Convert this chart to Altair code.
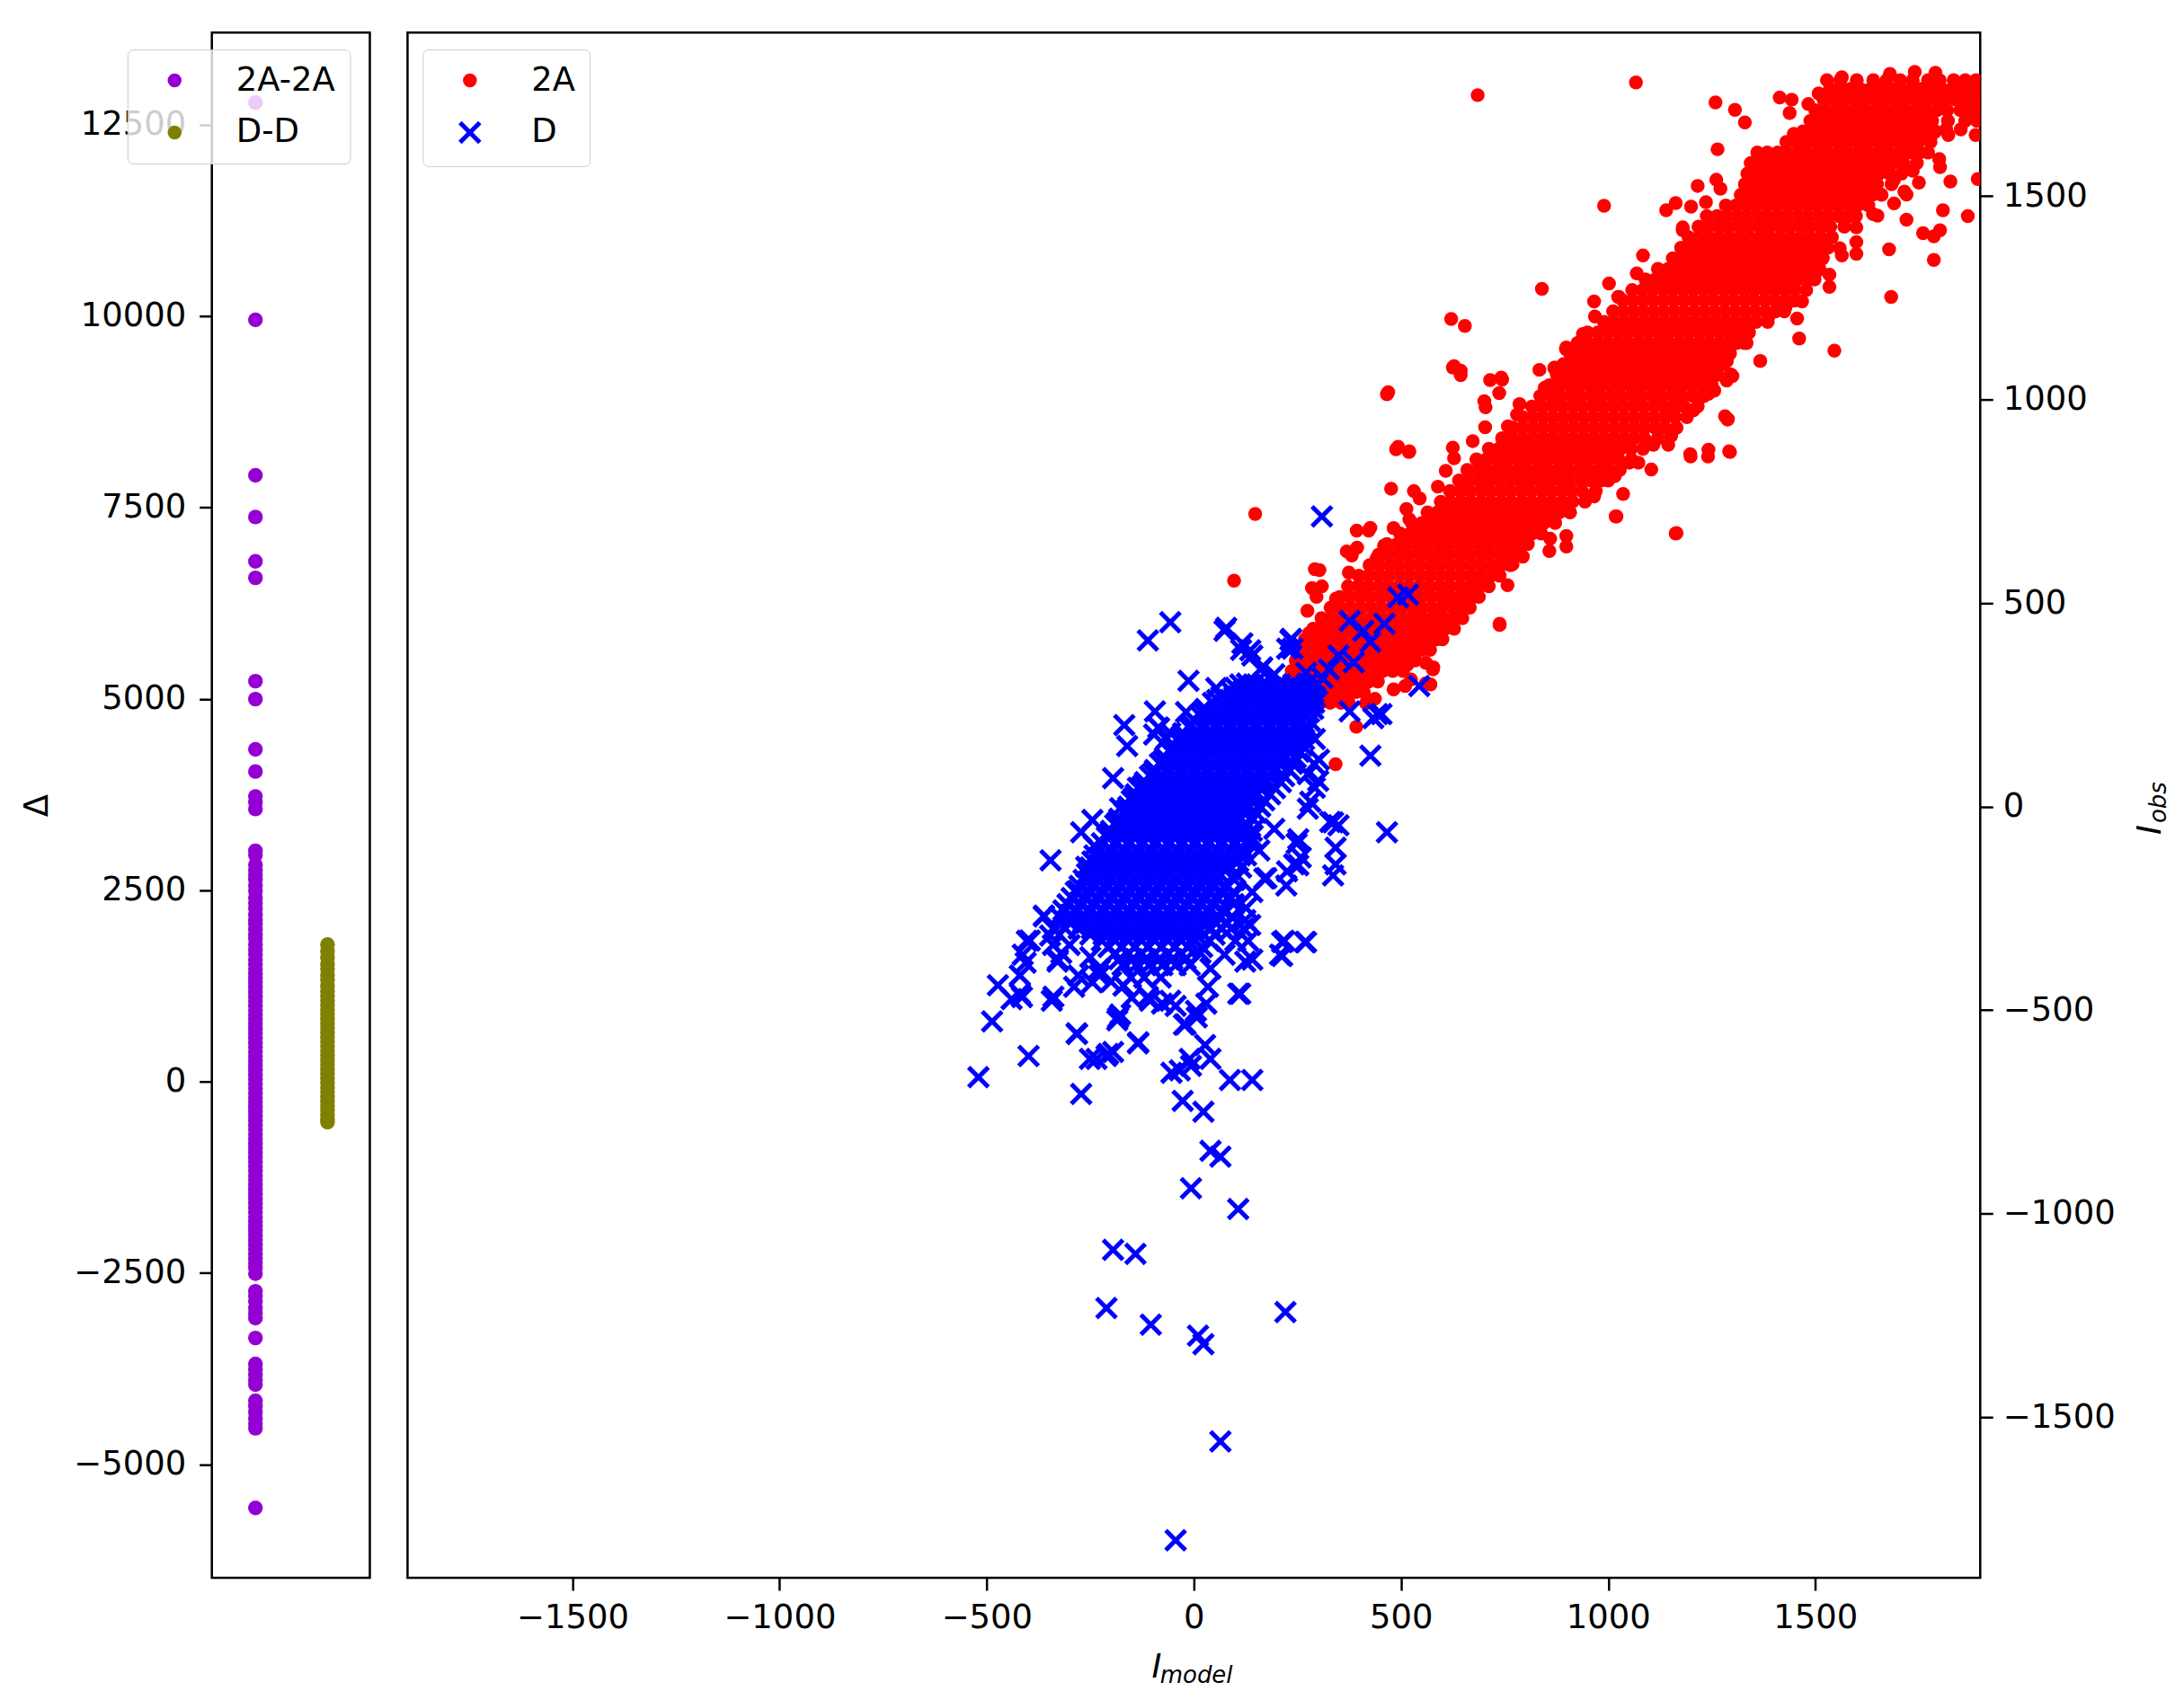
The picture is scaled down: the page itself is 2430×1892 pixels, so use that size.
import altair as alt
import pandas as pd

# ---------- left panel values (Delta) ----------
delta_2a = [12790, 9950, 7920, 7375, 6795, 6580, 5230, 4995, 4340, 4050, 3725, 3650, 3560, 3015, 2960, 2830, 2760,
            2700, 2640, 2560, 2490, 2400, 2330, 2260, 2180, 2110, 2060, 1990, 1920, 1870, 1790, 1720, 1660, 1590,
            1530, 1470, 1410, 1350, 1290, 1230, 1170, 1110, 1050, 990, 930, 870, 810, 750, 690, 630, 570, 510, 450,
            390, 330, 270, 210, 150, 90, 30, -30, -90, -150, -210, -270, -330, -390, -450, -510, -570, -630, -690,
            -750, -810, -870, -930, -990, -1050, -1110, -1170, -1230, -1290, -1350, -1410, -1470, -1530, -1590,
            -1650, -1710, -1770, -1830, -1890, -1950, -2010, -2070, -2130, -2190, -2250, -2310, -2370, -2430, -2510,
            -2740, -2800, -2870, -2960, -3030, -3090, -3350, -3690, -3760, -3830, -3900, -3960, -4170, -4240, -4320,
            -4400, -4470, -4530, -5570]
delta_d = [1790, 1700, 1620, 1530, 1470, 1390, 1330, 1250, 1180, 1120, 1060, 1000, 940, 880, 820, 760, 700, 640, 580,
           520, 460, 400, 340, 280, 220, 160, 100, 40, -20, -80, -140, -200, -260, -320, -380, -440, -490, -530]

# ---------- right panel values: outliers ----------
red_out_x = [1067, 1259, 1306, 1330, 1264, 1414, 1438, 1443, 990, 1216, 840, 1002, 966, 1026, 1140, 1163, 1200, 1180,
             834, 871, 1678, 1786, 1683, 1546, 1461, 1456, 1367, 1334, 1288, 1206, 1296, 1534, 1534, 1826, 1892, 1808,
             1868, 1760, 1801, 1786, 1799, 1801, 1816, 1735, 1750, 1720, 1690, 1720, 1639, 1599, 1564, 1508, 685, 148,
             97, 621, 654, 628, 644, 715, 742, 466, 493, 520, 292, 309, 369, 393, 426, 476, 1165, 1020, 738, 1242,
             1292, 1198, 1282, 560, 577, 510, 342, 544]
red_out_y = [1779, 1730, 1712, 1681, 1615, 1742, 1704, 1737, 1476, 1525, 1272, 1285, 1241, 1252, 1465, 1483, 1474, 1423,
             1073, 1079, 1369, 1343, 1252, 1120, 1150, 1199, 1095, 1139, 951, 974, 1062, 1307, 1277, 1536, 1542, 1465,
             1451, 1409, 1416, 1401, 1591, 1571, 1664, 1562, 1533, 1504, 1482, 1442, 1456, 1358, 1354, 1343, 1748, 719,
             555, 1198, 1181, 1082, 1071, 1048, 1054, 1013, 884, 873, 583, 541, 627, 678, 685, 781, 672, 713, 449, 877,
             873, 866, 959, 303, 337, 296, 104, 398]

# dots hugging the band's edges
red_edge_x = [469, 488, 519, 625, 644, 744, 737, 701, 704, 870, 899, 939, 786, 780, 758, 703, 673, 625, 628, 608, 589,
              531, 545, 513, 520, 482, 422, 459, 394, 381, 441, 303, 374, 285, 296, 343, 274, 278, 1329, 1289, 1294,
              1241, 1199, 1163, 1018, 1036, 966, 1016, 1104, 1073, 1051, 1145, 1152, 1109, 1203, 1159, 1300, 1286, 1286,
              1242, 899, 899, 858, 860, 794, 769, 715, 757, 668, 686, 738, 625, 610, 571, 560, 578, 516, 571, 524, 482,
              437, 415, 392, 1528, 1564, 1508, 1483, 1508, 1448, 1362, 1347, 1261, 1271, 1236, 1180, 1084, 1069, 1024,
              968, 943, 898, 847, 1821, 1851, 1887, 1872, 1781, 1740, 1690, 1715, 1650, 1599, 1599, 1559, 1508, 1498,
              1503, 1468, 1428, 1387, 1286, 1256, 1226, 1155, 1680, 1740, 1790]
red_edge_y = [1018, 878, 871, 1079, 1060, 1049, 1016, 996, 981, 1077, 1128, 1161, 989, 963, 934, 932, 898, 882, 856, 825,
              786, 775, 757, 731, 706, 684, 678, 641, 636, 617, 610, 581, 575, 537, 515, 511, 481, 426, 1139, 952, 871,
              860, 860, 671, 713, 768, 762, 812, 828, 845, 845, 889, 911, 889, 974, 978, 1058, 1047, 1095, 1014, 665, 639,
              628, 658, 614, 595, 567, 544, 511, 540, 446, 496, 456, 404, 353, 342, 349, 300, 312, 288, 265, 254, 196,
              1785, 1792, 1752, 1726, 1697, 1653, 1602, 1555, 1540, 1518, 1485, 1416, 1354, 1310, 1252, 1204, 1161, 1124,
              1029, 1650, 1664, 1650, 1701, 1650, 1606, 1540, 1511, 1452, 1423, 1387, 1372, 1365, 1387, 1314, 1241, 1226,
              1204, 1095, 1022, 1007, 971, 1800, 1805, 1803]

blue_out_x = [309, -57, -111, 74, 114, 141, 161, 128, -13, -94, -84, -67, -168, -161, -195, -245, -272, -346, -362, -403,
              -413, -420, -473, -420, -440, -487, -399, -520, -282, -272, -235, -211, -195, -134, -178, -185, -279, -329,
              -339, -228, -245, -111, -77, -44, 7, -20, 30, -10, 27, 40, -27, -54, -34, -7, 87, 141, 23, 40, 64, -7, 107,
              -195, -141, -211, -104, 10, 23, 221, 64, -44, 544, 376, 453, 433, 426, 466, 336, 349, 342, 342, 336, 248,
              258, 225, 242, 275, 292, 302, 275, 124, 131, 124, 218, 208, 268, 107, 74, 40, 141, 175, 158, 493, 517, 376,
              409, 460, 426, 386, 326, 235, 225, 275, 349, 443, 292, 252, 252, 223, 170, 290, 300, 281, 329, 194, 126,
              136, 141, 213, 271, 213, 112, -362, -396, -415, -343, -283, -135, -183, -106, -57, 5, -24, 34, -227, -289,
              -328, -406, -251, -207,
              310, 271, 233, 238, 136, 117, 78, 165, 194, 54, -19, -86, -96, -57, -135, -178, -241, -260, -280, -299,
              -347, -340, -310, 90, 120, 100, -340, -320, -300, -250, -230, -200, -170, -150]
blue_out_y = [713, 453, 408, 432, 385, 371, 337, 302, 309, 234, 193, 166, 200, 149, 70, -33, -63, -132, -268, -330,
              -364, -415, -439, -460, -473, -528, -613, -665, -559, -706, -620, -613, -603, -579, -511, -525, -415, -381,
              -467, -415, -432, -467, -484, -490, -518, -535, -484, -620, -586, -620, -723, -654, -648, -637, -672, -672,
              -750, -846, -860, -938, -989, -1089, -1099, -1232, -1273, -1300, -1321, -1242, -1560, -1803, 296, 234, 227,
              217, 125, -63, -39, -46, -101, -142, -169, -91, -125, -159, -142, 80, 46, 115, -5, -279, -330, -381, -330,
              -364, -333, -460, -364, -398, -210, -176, -108, 514, 521, 456, 432, 449, 405, 354, 337, 412, 388, 302, 371,
              227, 166, -80, -144, -194, -177, 105, 63, 12, -38, -55, -249, -291, -376, -333, -333, -367, -460, -270,
              -329, -468, -477, -557, -582, -519, -477, -477, -502, -536, -443, -401, -443, -376, -384, -620, -608,
              316, 329, 409, 388, 384, 401, 439, 342, 325, 291, 232, 194, 177, 181, 46, -4, -97, -148, -207, -266,
              -317, -300, -300, -300, -300, -330, -340, -360, -340, -370, -400, -430, -440, -470]

# ---------- right panel values: the solid bands, row by row (I_obs, then I_model readings) ----------
red_rows = [
    (255, [232, 258, 281, 306, 329, 355, 374]),
    (281, [218, 244, 268, 293, 317, 342, 366, 391, 410]),
    (307, [226, 251, 275, 300, 325, 349, 374, 398, 422, 444]),
    (333, [236, 260, 285, 309, 334, 358, 383, 407, 432, 456, 480, 505]),
    (359, [246, 270, 295, 320, 344, 369, 393, 418, 442, 467, 491, 516, 534]),
    (385, [256, 281, 305, 330, 354, 379, 403, 428, 452, 477, 501, 526, 550, 570]),
    (411, [268, 293, 317, 342, 366, 391, 415, 440, 464, 489, 513, 538, 562, 586, 600]),
    (437, [288, 312, 337, 361, 386, 410, 435, 459, 484, 508, 533, 557, 581, 606, 628]),
    (463, [308, 333, 357, 382, 406, 431, 455, 480, 504, 529, 553, 578, 602, 627, 648]),
    (489, [330, 354, 379, 403, 428, 452, 477, 501, 526, 550, 575, 599, 624, 648, 666]),
    (515, [352, 376, 401, 425, 450, 474, 499, 523, 548, 572, 597, 621, 646, 670, 688]),
    (541, [372, 397, 421, 446, 470, 495, 519, 544, 568, 593, 617, 642, 666, 691, 712]),
    (567, [398, 422, 447, 471, 496, 520, 545, 569, 594, 618, 643, 667, 692, 716, 738]),
    (593, [424, 448, 473, 497, 522, 546, 571, 595, 620, 644, 669, 693, 718, 742, 764]),
    (619, [446, 470, 495, 519, 544, 568, 593, 617, 642, 666, 691, 715, 740, 764, 786]),
    (645, [466, 491, 515, 540, 564, 589, 613, 638, 662, 687, 711, 736, 760, 785, 806]),
    (671, [498, 522, 547, 571, 596, 620, 645, 669, 694, 718, 743, 767, 792, 816, 838]),
    (697, [526, 551, 575, 600, 624, 649, 673, 698, 722, 747, 771, 796, 820, 845, 872]),
    (723, [564, 588, 613, 637, 662, 686, 711, 735, 760, 784, 809, 833, 858, 882, 908]),
    (749, [596, 620, 645, 669, 694, 718, 743, 767, 792, 816, 841, 865, 890, 914, 944]),
    (775, [618, 643, 667, 692, 716, 741, 765, 790, 814, 839, 863, 888, 912, 937, 970]),
    (801, [640, 664, 689, 713, 738, 762, 787, 811, 836, 860, 885, 909, 934, 958, 983, 1000]),
    (827, [660, 685, 709, 734, 758, 783, 807, 832, 856, 881, 905, 930, 954, 979, 1003, 1028]),
    (853, [682, 706, 731, 755, 780, 804, 829, 853, 878, 902, 927, 951, 976, 1000, 1025, 1056]),
    (879, [712, 736, 761, 785, 810, 834, 859, 883, 908, 932, 957, 981, 1006, 1030, 1055, 1084]),
    (905, [744, 768, 793, 817, 842, 866, 891, 915, 940, 964, 989, 1013, 1038, 1062, 1087, 1120]),
    (931, [770, 794, 819, 843, 868, 892, 917, 941, 966, 990, 1015, 1039, 1064, 1088, 1113, 1137, 1165]),
    (957, [794, 818, 843, 867, 892, 916, 941, 965, 990, 1014, 1039, 1063, 1088, 1112, 1137, 1161, 1190]),
    (983, [816, 840, 865, 889, 914, 938, 963, 987, 1012, 1036, 1061, 1085, 1110, 1134, 1159, 1183, 1216]),
    (1009, [836, 861, 885, 910, 934, 959, 983, 1008, 1032, 1057, 1081, 1106, 1130, 1155, 1179, 1204, 1232]),
    (1035, [858, 882, 907, 931, 956, 980, 1005, 1029, 1054, 1078, 1103, 1127, 1152, 1176, 1201, 1225, 1250]),
    (1061, [876, 900, 925, 949, 974, 998, 1023, 1047, 1072, 1096, 1121, 1145, 1170, 1194, 1219, 1243, 1265]),
    (1087, [892, 917, 941, 966, 990, 1015, 1039, 1064, 1088, 1113, 1137, 1162, 1186, 1211, 1235, 1260, 1280]),
    (1113, [908, 932, 957, 981, 1006, 1030, 1055, 1079, 1104, 1128, 1153, 1177, 1202, 1226, 1251, 1275, 1294]),
    (1139, [926, 950, 975, 999, 1024, 1048, 1073, 1097, 1122, 1146, 1171, 1195, 1220, 1244, 1269, 1293, 1310]),
    (1165, [950, 975, 999, 1024, 1048, 1073, 1097, 1122, 1146, 1171, 1195, 1220, 1244, 1269, 1293, 1318, 1340]),
    (1191, [990, 1014, 1039, 1063, 1088, 1112, 1137, 1161, 1186, 1210, 1235, 1259, 1284, 1308, 1333, 1357, 1385]),
    (1217, [1012, 1036, 1061, 1085, 1110, 1134, 1159, 1183, 1208, 1232, 1257, 1281, 1306, 1330, 1355, 1379, 1404, 1425]),
    (1243, [1036, 1060, 1085, 1109, 1134, 1158, 1183, 1207, 1232, 1256, 1281, 1305, 1330, 1354, 1379, 1403, 1428, 1450]),
    (1269, [1058, 1083, 1107, 1132, 1156, 1181, 1205, 1230, 1254, 1279, 1303, 1328, 1352, 1377, 1401, 1426, 1450, 1478]),
    (1295, [1090, 1114, 1139, 1163, 1188, 1212, 1237, 1261, 1286, 1310, 1335, 1359, 1384, 1408, 1433, 1457, 1482, 1498]),
    (1321, [1120, 1145, 1169, 1194, 1218, 1243, 1267, 1292, 1316, 1341, 1365, 1390, 1414, 1439, 1463, 1488, 1510]),
    (1347, [1156, 1180, 1205, 1229, 1254, 1278, 1303, 1327, 1352, 1376, 1401, 1425, 1450, 1474, 1499, 1518]),
    (1373, [1176, 1200, 1225, 1249, 1274, 1298, 1323, 1347, 1372, 1396, 1421, 1445, 1470, 1494, 1519, 1530]),
    (1399, [1194, 1219, 1243, 1268, 1292, 1317, 1341, 1366, 1390, 1415, 1439, 1464, 1488, 1513, 1540]),
    (1425, [1218, 1242, 1267, 1291, 1316, 1340, 1365, 1389, 1414, 1438, 1463, 1487, 1512, 1536, 1570]),
    (1451, [1238, 1263, 1287, 1312, 1336, 1361, 1385, 1410, 1434, 1459, 1483, 1508, 1532, 1557, 1581, 1598]),
    (1477, [1284, 1308, 1333, 1357, 1382, 1406, 1431, 1455, 1480, 1504, 1529, 1553, 1578, 1602, 1628]),
    (1503, [1320, 1344, 1369, 1393, 1418, 1442, 1467, 1491, 1516, 1540, 1565, 1589, 1614, 1638, 1660]),
    (1529, [1330, 1355, 1379, 1404, 1428, 1453, 1477, 1502, 1526, 1551, 1575, 1600, 1624, 1649, 1684]),
    (1555, [1336, 1360, 1385, 1409, 1434, 1458, 1483, 1507, 1532, 1556, 1581, 1605, 1630, 1654, 1679, 1708]),
    (1581, [1344, 1369, 1393, 1418, 1442, 1467, 1491, 1516, 1540, 1565, 1589, 1614, 1638, 1663, 1687, 1712, 1745]),
    (1607, [1360, 1384, 1409, 1433, 1458, 1482, 1507, 1531, 1556, 1580, 1605, 1629, 1654, 1678, 1703, 1727, 1752, 1772]),
    (1633, [1430, 1455, 1479, 1504, 1528, 1553, 1577, 1602, 1626, 1651, 1675, 1700, 1724, 1749, 1778]),
    (1659, [1470, 1494, 1519, 1543, 1568, 1592, 1617, 1641, 1666, 1690, 1715, 1739, 1764, 1790]),
    (1685, [1488, 1513, 1537, 1562, 1586, 1611, 1635, 1660, 1684, 1709, 1733, 1758, 1782, 1820, 1862, 1890]),
    (1711, [1500, 1524, 1549, 1573, 1598, 1622, 1647, 1671, 1696, 1720, 1745, 1769, 1794, 1818, 1850, 1876, 1896]),
    (1737, [1520, 1545, 1569, 1594, 1618, 1643, 1667, 1692, 1716, 1741, 1765, 1790, 1814, 1839, 1863, 1888]),
    (1763, [1535, 1559, 1584, 1608, 1633, 1657, 1682, 1706, 1731, 1755, 1780, 1804, 1829, 1853, 1878, 1898]),
    (1785, [1560, 1600, 1640, 1672, 1705, 1735, 1772, 1800, 1834, 1862, 1888]),
]

blue_rows = [
    (300, [112, 144, 176, 208, 240, 272, 298]),
    (292, [100, 132, 164, 196, 228, 260, 290]),
    (285, [88, 120, 152, 184, 216, 248, 280]),
    (270, [66, 98, 130, 162, 194, 226, 258, 292]),
    (262, [56, 88, 120, 152, 184, 216, 248, 280]),
    (255, [46, 78, 110, 142, 174, 206, 238, 270, 290]),
    (240, [28, 60, 92, 124, 156, 188, 220, 252, 288]),
    (232, [22, 54, 86, 118, 150, 182, 214, 246, 278]),
    (225, [14, 46, 78, 110, 142, 174, 206, 238, 270]),
    (210, [2, 34, 66, 98, 130, 162, 194, 226, 258, 280]),
    (202, [-6, 26, 58, 90, 122, 154, 186, 218, 250]),
    (195, [-12, 20, 52, 84, 116, 148, 180, 212, 244, 272]),
    (180, [-26, 6, 38, 70, 102, 134, 166, 198, 230, 268]),
    (172, [-30, 2, 34, 66, 98, 130, 162, 194, 226, 258]),
    (165, [-36, -4, 28, 60, 92, 124, 156, 188, 220, 252, 266]),
    (150, [-48, -16, 16, 48, 80, 112, 144, 176, 208, 240, 262]),
    (142, [-52, -20, 12, 44, 76, 108, 140, 172, 204, 236]),
    (135, [-58, -26, 6, 38, 70, 102, 134, 166, 198, 230, 254]),
    (120, [-70, -38, -6, 26, 58, 90, 122, 154, 186, 218, 246]),
    (112, [-74, -42, -10, 22, 54, 86, 118, 150, 182, 214]),
    (105, [-82, -50, -18, 14, 46, 78, 110, 142, 174, 206, 238]),
    (90, [-94, -62, -30, 2, 34, 66, 98, 130, 162, 194, 230]),
    (82, [-98, -66, -34, -2, 30, 62, 94, 126, 158, 190]),
    (75, [-106, -74, -42, -10, 22, 54, 86, 118, 150, 182, 218]),
    (60, [-118, -86, -54, -22, 10, 42, 74, 106, 138, 170, 210]),
    (52, [-122, -90, -58, -26, 6, 38, 70, 102, 134, 166]),
    (45, [-128, -96, -64, -32, 0, 32, 64, 96, 128, 160, 196]),
    (30, [-140, -108, -76, -44, -12, 20, 52, 84, 116, 148, 184]),
    (22, [-144, -112, -80, -48, -16, 16, 48, 80, 112, 144]),
    (15, [-150, -118, -86, -54, -22, 10, 42, 74, 106, 138, 170]),
    (0, [-158, -126, -94, -62, -30, 2, 34, 66, 98, 130, 160]),
    (-8, [-162, -130, -98, -66, -34, -2, 30, 62, 94, 126]),
    (-15, [-168, -136, -104, -72, -40, -8, 24, 56, 88, 120, 150]),
    (-30, [-180, -148, -116, -84, -52, -20, 12, 44, 76, 108, 142]),
    (-38, [-184, -152, -120, -88, -56, -24, 8, 40, 72, 104]),
    (-45, [-190, -158, -126, -94, -62, -30, 2, 34, 66, 98, 130]),
    (-60, [-200, -168, -136, -104, -72, -40, -8, 24, 56, 88, 120, 140]),
    (-68, [-204, -172, -140, -108, -76, -44, -12, 20, 52, 84, 116]),
    (-75, [-210, -178, -146, -114, -82, -50, -18, 14, 46, 78, 110, 138]),
    (-90, [-222, -190, -158, -126, -94, -62, -30, 2, 34, 66, 98, 136]),
    (-105, [-232, -200, -168, -136, -104, -72, -40, -8, 24, 56, 88, 120]),
    (-120, [-240, -208, -176, -144, -112, -80, -48, -16, 16, 48, 80, 112, 126]),
    (-135, [-245, -213, -181, -149, -117, -85, -53, -21, 11, 43, 75, 107]),
    (-150, [-250, -218, -186, -154, -122, -90, -58, -26, 6, 38, 70, 114]),
    (-165, [-258, -226, -194, -162, -130, -98, -66, -34, -2, 30, 62, 100]),
    (-180, [-266, -234, -202, -170, -138, -106, -74, -42, -10, 22, 54, 98]),
    (-195, [-276, -244, -212, -180, -148, -116, -84, -52, -20, 12, 44, 76]),
    (-210, [-285, -253, -221, -189, -157, -125, -93, -61, -29, 3, 35, 67, 96]),
    (-225, [-295, -263, -231, -199, -167, -135, -103, -71, -39, -7, 25, 57, 90]),
    (-240, [-305, -273, -241, -209, -177, -145, -113, -81, -49, -17, 15, 47, 96]),
    (-255, [-315, -283, -251, -219, -187, -155, -123, -91, -59, -27, 5, 37, 69]),
    (-270, [-325, -293, -261, -229, -197, -165, -133, -101, -69, -37, -5, 27, 59, 92]),
    (-285, [-300, -268, -236, -204, -172, -140, -108, -76, -44, -12, 20, 52, 80]),
    (-300, [-278, -246, -214, -182, -150, -118, -86, -54, -22, 10, 42, 68]),
    (-315, [-250, -218, -186, -154, -122, -90, -58, -26, 6, 50]),
    (-330, [-222, -190, -158, -126, -94, -62, -30, 2, 38]),
    (-345, [-206, -174, -142, -110, -78, -46, -14, 20]),
    (-360, [-190, -158, -126, -94, -62, -30, 16]),
    (-375, [-180, -148, -116, -84, -52, -20]),
    (-390, [-172, -140, -108, -76, -44, -10]),
    (-420, [-152, -120, -80]),
]

SERIES_2A = "2A"
SERIES_D = "D"
SERIES_2A2A = "2A-2A"
SERIES_DD = "D-D"
X_SHAPE = "M-1,-1L1,1M-1,1L1,-1"
FONT = "DejaVu Sans"
INK = "#000000"

red_x = red_out_x + red_edge_x
red_y = red_out_y + red_edge_y
for yv, xs in red_rows:
    red_x += xs
    red_y += [yv] * len(xs)
blue_x = list(blue_out_x)
blue_y = list(blue_out_y)
for yv, xs in blue_rows:
    blue_x += xs
    blue_y += [yv] * len(xs)

df_right = pd.DataFrame({
    "model": red_x + blue_x,
    "obs": red_y + blue_y,
    "series": [SERIES_2A] * len(red_x) + [SERIES_D] * len(blue_x),
})
df_left = pd.DataFrame({
    "slot": [0] * len(delta_2a) + [1] * len(delta_d),
    "delta": delta_2a + delta_d,
    "series": [SERIES_2A2A] * len(delta_2a) + [SERIES_DD] * len(delta_d),
})


def legend_for(x, rows, **extra):
    return alt.Legend(
        title=None, orient="none", legendX=x, legendY=19,
        fillColor="rgba(255,255,255,0.8)", strokeColor="#cccccc", cornerRadius=6,
        padding=16, rowPadding=rows, labelFontSize=37, labelFont=FONT, labelColor=INK,
        labelOffset=50, symbolOffset=18, **extra,
    )


leg_l = legend_for(-94, 20, symbolSize=240)
left = alt.Chart(df_left).mark_point(opacity=1, filled=True, size=270, shape="circle").encode(
    x=alt.X("slot:Q", axis=None, scale=alt.Scale(domain=[-0.605, 1.5875], nice=False, zero=False)),
    y=alt.Y("delta:Q", title="Δ",
            scale=alt.Scale(domain=[-6483, 13705], nice=False, zero=False),
            axis=alt.Axis(values=[-5000, -2500, 0, 2500, 5000, 7500, 10000, 12500], format="d",
                          titlePadding=21, labelPadding=15)),
    color=alt.Color("series:N", scale=alt.Scale(domain=[SERIES_2A2A, SERIES_DD], range=["#9400D3", "#808000"]), legend=leg_l),
).properties(width=176, height=1722)

leg_r = legend_for(235, 18)
dom = [SERIES_2A, SERIES_D]
points = alt.Chart(df_right).mark_point(opacity=1, clip=True).encode(
    x=alt.X("model:Q", scale=alt.Scale(domain=[-1898, 1898], nice=False, zero=False),
            axis=alt.Axis(values=[-1500, -1000, -500, 0, 500, 1000, 1500], format="d", title="I", labelPadding=13,
                          titleFontStyle="italic", titleX=834, titleY=100, titleBaseline="middle")),
    y=alt.Y("obs:Q", scale=alt.Scale(domain=[-1895, 1902], nice=False, zero=False),
            axis=alt.Axis(orient="right", values=[-1500, -1000, -500, 0, 500, 1000, 1500], format="d", title="I",
                          labelPadding=11, titleAngle=270,
                          titleFontStyle="italic", titleX=189, titleY=888, titleBaseline="middle")),
    fill=alt.Fill("series:N", scale=alt.Scale(domain=dom, range=["#FF0000", "transparent"]), legend=leg_r),
    stroke=alt.Stroke("series:N", scale=alt.Scale(domain=dom, range=["#FF0000", "#0000FF"]), legend=leg_r),
    shape=alt.Shape("series:N", scale=alt.Scale(domain=dom, range=["circle", X_SHAPE]), legend=leg_r),
    size=alt.Size("series:N", scale=alt.Scale(domain=dom, range=[240, 484]), legend=leg_r),
    strokeWidth=alt.StrokeWidth("series:N", scale=alt.Scale(domain=dom, range=[0, 5]), legend=leg_r),
)
sub_x = alt.Chart(pd.DataFrame({"t": ["model"], "v": [6]})).mark_text(
    fontSize=26, fontStyle="italic", font=FONT, color=INK, clip=False).encode(
    x=alt.X("v:Q"), y=alt.value(1831), text="t:N")
sub_y = alt.Chart(pd.DataFrame({"t": ["obs"], "v": [10]})).mark_text(
    fontSize=26, fontStyle="italic", font=FONT, color=INK, clip=False, angle=270).encode(
    y=alt.Y("v:Q"), x=alt.value(1951), text="t:N")
right = alt.layer(points, sub_x, sub_y).properties(width=1752, height=1722)

chart = alt.hconcat(left, right, spacing=38).properties(
    padding={"left": 13, "top": 25, "right": 5, "bottom": 5}
).configure_view(stroke=INK, strokeWidth=2.5).configure_axis(
    grid=False, domain=False, labelFont=FONT, labelFontSize=37, labelColor=INK,
    tickSize=14, tickWidth=2.5, tickColor=INK, titleFont=FONT, titleFontSize=37,
    titleFontWeight="normal", titleColor=INK,
)
chart.save("out.html", embed_options={"renderer": "svg", "actions": False})
